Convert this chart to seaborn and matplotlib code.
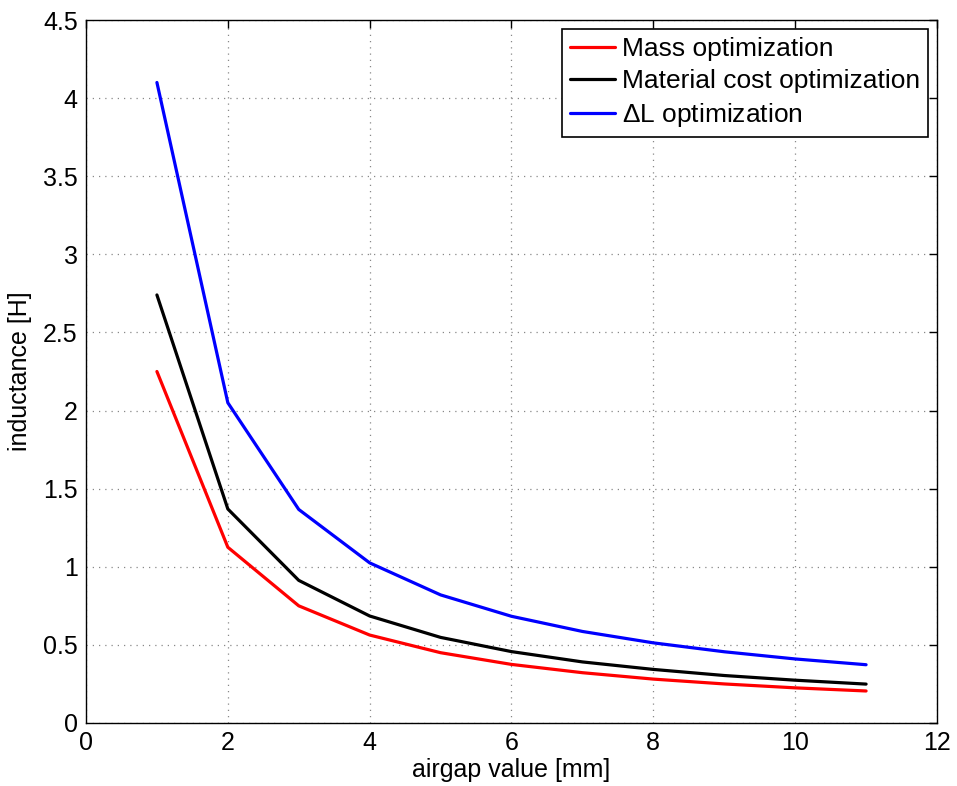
import numpy as np
import pandas as pd
import seaborn as sns
import matplotlib
matplotlib.use("Agg")
import matplotlib.pyplot as plt

airgap = [1, 2, 3, 4, 5, 6, 7, 8, 9, 10, 11]
mass_opt = [2.25, 1.125, 0.75, 0.563, 0.45, 0.375, 0.322, 0.281, 0.25, 0.225, 0.205]
cost_opt = [2.74, 1.37, 0.913, 0.685, 0.548, 0.457, 0.391, 0.343, 0.304, 0.274, 0.249]
dl_opt = [4.10, 2.05, 1.367, 1.025, 0.82, 0.683, 0.586, 0.513, 0.456, 0.41, 0.373]
series_names = ["Mass optimization", "Material cost optimization", r"$\Delta$L optimization"]
colors = ["#ff0000", "#000000", "#0000ff"]

df = pd.DataFrame({
    "airgap": airgap * 3,
    "L": mass_opt + cost_opt + dl_opt,
    "series": [series_names[0]] * len(airgap) + [series_names[1]] * len(airgap) + [series_names[2]] * len(airgap),
})

sns.set_style("white")
plt.rcParams["font.family"] = ["Liberation Sans", "DejaVu Sans"]
plt.rcParams["mathtext.fontset"] = "custom"
plt.rcParams["mathtext.rm"] = "Liberation Sans"
plt.rcParams["mathtext.it"] = "Liberation Sans"
plt.rcParams["text.color"] = "black"
plt.rcParams["axes.labelcolor"] = "black"

fig = plt.figure(figsize=(9.57, 7.86), dpi=100)
ax = fig.add_axes([86 / 957, 1 - 723 / 786, (937 - 86) / 957, (723 - 20) / 786])

sns.lineplot(data=df, x="airgap", y="L", hue="series", palette=colors,
             hue_order=series_names, linewidth=2.3, ax=ax, legend=True)

ax.set_xlim(0, 12)
ax.set_ylim(0, 4.5)
ax.set_xticks(np.arange(0, 13, 2))
ax.set_yticks(np.arange(0, 4.6, 0.5))
ax.set_xticklabels([str(int(v)) for v in np.arange(0, 13, 2)])
ax.set_yticklabels(["0", "0.5", "1", "1.5", "2", "2.5", "3", "3.5", "4", "4.5"])
ax.tick_params(direction="in", length=6, width=1, labelsize=18, colors="black",
               labelcolor="black", top=True, right=True, pad=6)
ax.grid(True, linestyle=(0, (1, 4)), color="#888888", linewidth=0.9)
for s in ax.spines.values():
    s.set_visible(True)
    s.set_color("black")
    s.set_linewidth(1.0)
ax.set_xlabel("airgap value [mm]", fontsize=18, labelpad=2, color="black")
ax.set_ylabel("inductance [H]", fontsize=18, labelpad=8, color="black")

leg = ax.legend(loc="upper right", fontsize=19, frameon=True, fancybox=False,
                edgecolor="black", framealpha=1, borderpad=0.3, labelspacing=0.3,
                handlelength=1.7, handletextpad=0.25, borderaxespad=0.35)
leg.get_frame().set_linewidth(1.2)
for t in leg.get_texts():
    t.set_color("black")

fig.savefig("out.png", dpi=100)
